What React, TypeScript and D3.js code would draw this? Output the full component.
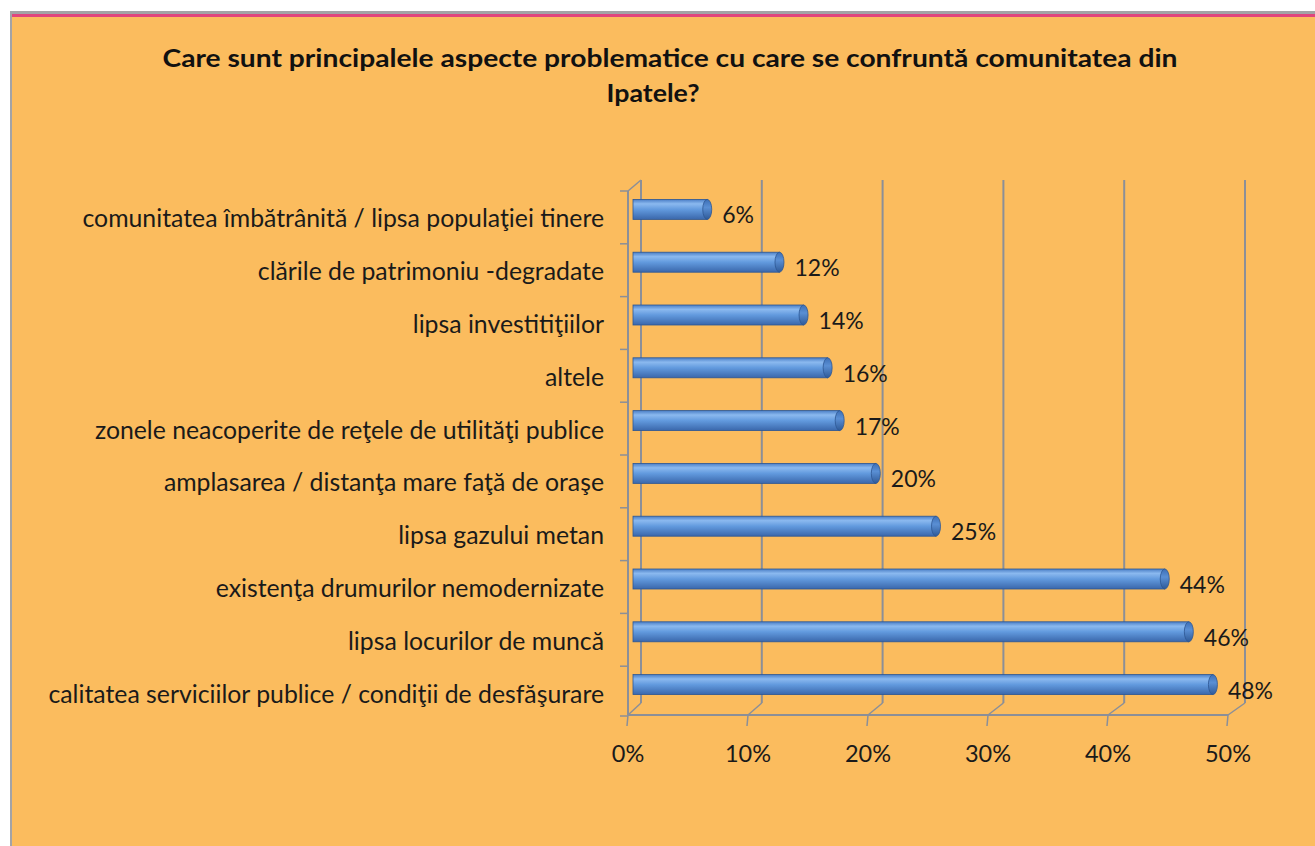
import React from "react";
import * as d3 from "d3";

const titleLines = [
  "Care sunt principalele aspecte problematice cu care se confruntă comunitatea din",
  "Ipatele?",
];
const categories = [
  "comunitatea îmbătrânită / lipsa populaţiei tinere",
  "clările de patrimoniu -degradate",
  "lipsa investitiţiilor",
  "altele",
  "zonele neacoperite de reţele de utilităţi publice",
  "amplasarea / distanţa mare faţă de oraşe",
  "lipsa gazului metan",
  "existenţa drumurilor nemodernizate",
  "lipsa locurilor de muncă",
  "calitatea serviciilor publice / condiţii de desfăşurare",
];
const values = [6, 12, 14, 16, 17, 20, 25, 44, 46, 48];
const ticks = [0, 10, 20, 30, 40, 50];

const W = 1315;
const H = 846;
const FONT = "Lato, 'Open Sans', sans-serif";
const ORANGE = "#FBBC5E";
const GRID = "#8b8f98";

export default function App() {
  const y = d3.scaleBand<string>().domain(categories).range([183, 711]).padding(0);
  const xBack = d3.scaleLinear().domain([0, 50]).range([641, 1245]);
  const xFront = d3.scaleLinear().domain([0, 50]).range([628, 1228]);
  const xBar = d3.scaleLinear().domain([0, 50]).range([635, 1237]);
  const backTop = 180;
  const backBottom = 703;
  const frontBottom = 715;
  const barH = 20;
  const barLeft = 633;

  return (
    <svg
      width={W}
      height={H}
      style={{ position: "absolute", left: 0, top: 0, display: "block" }}
    >
      <defs>
        <linearGradient id="barGrad" x1="0" y1="0" x2="0" y2="1">
          <stop offset="0" stopColor="#4a7ec6" />
          <stop offset="0.22" stopColor="#8bb9ef" />
          <stop offset="0.5" stopColor="#629ade" />
          <stop offset="1" stopColor="#3a67ab" />
        </linearGradient>
        <linearGradient id="capGrad" x1="0" y1="0" x2="0" y2="1">
          <stop offset="0" stopColor="#3d6fb6" />
          <stop offset="0.4" stopColor="#5a8fd4" />
          <stop offset="1" stopColor="#2f5a98" />
        </linearGradient>
      </defs>
      <rect x={0} y={0} width={W} height={H} fill="#ffffff" />
      <rect x={12} y={17} width={W - 12} height={H - 17} fill={ORANGE} />
      <rect x={10} y={11} width={W - 10} height={3} fill="#a3a3a6" />
      <rect x={12} y={14} width={W - 12} height={3} fill="#e0457d" />
      <rect x={10} y={11} width={2} height={H - 11} fill="#a3a3a6" />

      {/* title */}
      <text
        x={670}
        y={67}
        textAnchor="middle"
        fontFamily={FONT}
        fontWeight="bold"
        fontSize={25}
        fill="#111"
        textLength={1015}
        lengthAdjust="spacingAndGlyphs"
      >
        {titleLines[0]}
      </text>
      <text
        x={653}
        y={102}
        textAnchor="middle"
        fontFamily={FONT}
        fontWeight="bold"
        fontSize={25}
        fill="#111"
        textLength={93}
        lengthAdjust="spacingAndGlyphs"
      >
        {titleLines[1]}
      </text>

      {/* back wall gridlines */}
      {ticks.map((t) => (
        <g key={"g" + t}>
          <line
            x1={xBack(t)}
            x2={xBack(t)}
            y1={backTop}
            y2={backBottom}
            stroke={GRID}
            strokeWidth={2}
          />
          <line
            x1={xBack(t)}
            y1={backBottom}
            x2={xFront(t)}
            y2={frontBottom}
            stroke={GRID}
            strokeWidth={1.5}
          />
          <line
            x1={xFront(t)}
            y1={frontBottom}
            x2={xFront(t) - 1}
            y2={frontBottom + 11}
            stroke={GRID}
            strokeWidth={1.5}
          />
        </g>
      ))}
      {/* left wall */}
      <line x1={628} x2={628} y1={backTop + 11} y2={frontBottom} stroke={GRID} strokeWidth={2} />
      <line x1={628} y1={backTop + 11} x2={xBack(0)} y2={backTop} stroke={GRID} strokeWidth={1.5} />
      {/* floor front line */}
      <line x1={xFront(0)} x2={xFront(50)} y1={frontBottom} y2={frontBottom} stroke={GRID} strokeWidth={2} />
      {/* category ticks */}
      {categories.map((c) => (
        <line
          key={"t" + c}
          x1={620}
          x2={628}
          y1={(y(c) as number) + 8}
          y2={(y(c) as number) + 8}
          stroke={GRID}
          strokeWidth={1.5}
        />
      ))}
      <line x1={620} x2={628} y1={711 + 5} y2={711 + 5} stroke={GRID} strokeWidth={1.5} />

      {/* bars */}
      {categories.map((c, i) => {
        const cy = (y(c) as number) + y.bandwidth() / 2;
        const xe = xBar(values[i]);
        return (
          <g key={"b" + c}>
            <rect
              x={barLeft}
              y={cy - barH / 2}
              width={xe - barLeft}
              height={barH}
              fill="url(#barGrad)"
              stroke="#2d5793"
              strokeWidth={0.8}
            />
            <ellipse
              cx={xe}
              cy={cy}
              rx={4.5}
              ry={barH / 2}
              fill="url(#capGrad)"
              stroke="#2d5793"
              strokeWidth={0.8}
            />
            <text
              x={xe + 15}
              y={cy + 14}
              fontFamily={FONT}
              fontSize={23}
              fill="#1a1a1a"
            >
              {values[i] + "%"}
            </text>
            <text
              x={604}
              y={cy + 18}
              textAnchor="end"
              fontFamily={FONT}
              fontSize={24.8}
              fill="#1a1a1a"
            >
              {c}
            </text>
          </g>
        );
      })}

      {/* x tick labels */}
      {ticks.map((t) => (
        <text
          key={"l" + t}
          x={xFront(t)}
          y={762}
          textAnchor="middle"
          fontFamily={FONT}
          fontSize={23.5}
          fill="#1a1a1a"
        >
          {t + "%"}
        </text>
      ))}
    </svg>
  );
}
